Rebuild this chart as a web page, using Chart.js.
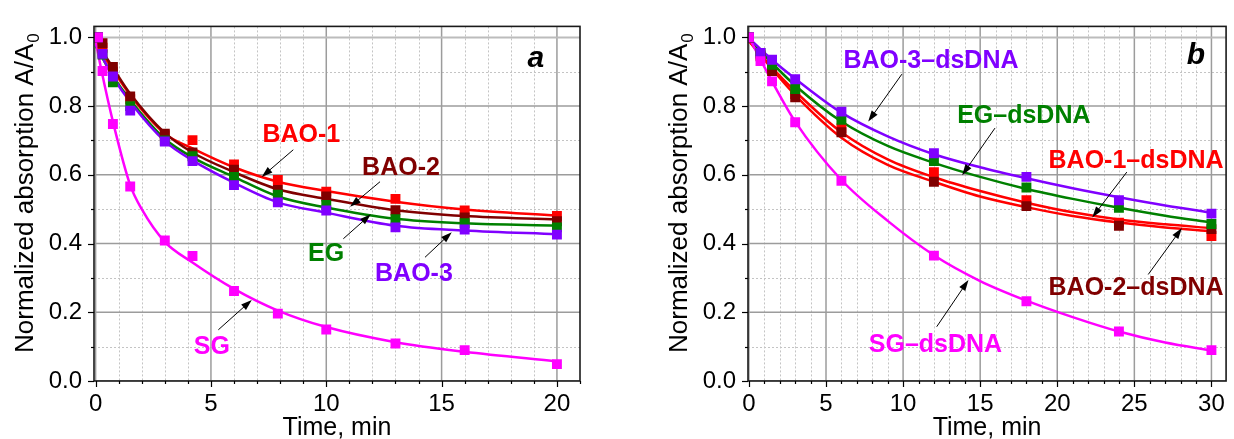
<!DOCTYPE html>
<html>
<head>
<meta charset="utf-8">
<title>Photobleaching kinetics</title>
<script src="https://cdn.jsdelivr.net/npm/chart.js@4.4.0/dist/chart.umd.min.js"></script>
<style>
  body { margin: 0; background: #fff; }
  canvas.panel { position: absolute; top: 0; }
</style>
</head>
<body>
<canvas id="chartA" class="panel" width="617" height="439" style="left:0"></canvas>
<canvas id="chartB" class="panel" width="617" height="439" style="left:617px"></canvas>
<script>
const FONT = '"Liberation Sans", Arial, sans-serif';

// Panel a: free dyes, measured points
const timeA = [0.1, 0.3, 0.75, 1.5, 3, 4.2, 6, 7.9, 10, 13, 16, 20];
const bao1A = [1.0, 0.97, 0.9, 0.82, 0.715, 0.701, 0.63, 0.585, 0.551, 0.53, 0.496, 0.48];
const bao2A = [1.0, 0.983, 0.914, 0.828, 0.72, 0.665, 0.615, 0.556, 0.537, 0.497, 0.476, 0.465];
const egA = [1.0, 0.95, 0.869, 0.8, 0.7, 0.654, 0.594, 0.542, 0.512, 0.471, 0.459, 0.447];
const bao3A = [1.0, 0.952, 0.886, 0.787, 0.697, 0.64, 0.57, 0.52, 0.496, 0.447, 0.441, 0.426];
const sgA = [1.0, 0.902, 0.748, 0.566, 0.409, 0.364, 0.262, 0.196, 0.15, 0.109, 0.09, 0.049];

// Panel a: fitted curves
const fitTimeA = [0, 0.75, 1.5, 3, 4.2, 6, 7.9, 10, 13, 16, 20];
const bao1FitA = [0.985, 0.905, 0.832, 0.72, 0.677, 0.622, 0.58, 0.553, 0.522, 0.499, 0.481];
const bao2FitA = [0.99, 0.912, 0.836, 0.722, 0.665, 0.608, 0.558, 0.53, 0.497, 0.48, 0.47];
const egFitA = [0.975, 0.888, 0.818, 0.705, 0.651, 0.594, 0.537, 0.505, 0.472, 0.459, 0.452];
const bao3FitA = [0.98, 0.885, 0.812, 0.698, 0.642, 0.577, 0.52, 0.49, 0.452, 0.438, 0.427];
const sgFitTimeA = [0, 0.25, 0.75, 1.5, 2, 3, 4.2, 6, 7.9, 10, 13, 16, 20];
const sgFitA = [0.99, 0.905, 0.755, 0.57, 0.5, 0.405, 0.345, 0.268, 0.205, 0.157, 0.113, 0.085, 0.057];

// Panel b: dye-dsDNA complexes, measured points
const timeB = [0, 0.75, 1.5, 3, 6, 12, 18, 24, 30];
const bao1B = [1.0, 0.95, 0.91, 0.835, 0.735, 0.608, 0.526, 0.461, 0.422];
const bao2B = [0.999, 0.945, 0.902, 0.826, 0.724, 0.58, 0.509, 0.452, 0.442];
const egB = [1.0, 0.955, 0.92, 0.85, 0.76, 0.64, 0.563, 0.504, 0.457];
const bao3B = [1.0, 0.955, 0.935, 0.878, 0.784, 0.663, 0.594, 0.526, 0.487];
const sgB = [1.0, 0.931, 0.872, 0.753, 0.583, 0.365, 0.232, 0.144, 0.09];

// Panel b: fitted curves
const fitTimeB = [0, 1.5, 3, 6, 9, 12, 15, 18, 21, 24, 27, 30];
const bao1FitB = [0.99, 0.912, 0.843, 0.724, 0.645, 0.593, 0.553, 0.519, 0.491, 0.47, 0.456, 0.445];
const bao2FitB = [0.99, 0.908, 0.832, 0.708, 0.629, 0.58, 0.537, 0.506, 0.48, 0.461, 0.447, 0.436];
const egFitB = [0.995, 0.925, 0.86, 0.755, 0.684, 0.635, 0.594, 0.559, 0.53, 0.504, 0.481, 0.461];
const bao3FitB = [0.998, 0.935, 0.88, 0.781, 0.712, 0.66, 0.622, 0.59, 0.561, 0.535, 0.511, 0.49];
const sgFitB = [1.0, 0.872, 0.755, 0.585, 0.466, 0.366, 0.291, 0.234, 0.186, 0.144, 0.112, 0.089];

// Axis ticks
const yTicks = [0, 0.2, 0.4, 0.6, 0.8, 1.0];
const xTicksA = [0, 5, 10, 15, 20];
const xTicksB = [0, 5, 10, 15, 20, 25, 30];

const RED = '#ff0000';
const DARK_RED = '#800000';
const GREEN = '#008000';
const VIOLET = '#8000ff';
const MAGENTA = '#ff00ff';

function toPoints(xs, ys) {
  return xs.map((x, i) => ({ x: x, y: ys[i] }));
}

function markers(xs, ys, color) {
  return {
    data: toPoints(xs, ys),
    showLine: false,
    pointStyle: 'rect',
    pointRadius: 7,
    pointHoverRadius: 7,
    pointBorderWidth: 0,
    backgroundColor: color,
    borderColor: color,
    order: 0,
  };
}

function fitLine(xs, ys, color) {
  return {
    data: toPoints(xs, ys),
    showLine: true,
    cubicInterpolationMode: 'monotone',
    pointRadius: 0,
    borderColor: color,
    backgroundColor: color,
    borderWidth: 2.5,
    order: 1,
  };
}

function lineAt(ctx, x0, y0, x1, y1) {
  ctx.beginPath();
  ctx.moveTo(x0, y0);
  ctx.lineTo(x1, y1);
  ctx.stroke();
}

function drawArrow(ctx, x0, y0, x1, y1) {
  const ang = Math.atan2(y1 - y0, x1 - x0);
  const len = 11;
  const half = 3.6;
  const cos = Math.cos(ang);
  const sin = Math.sin(ang);
  ctx.strokeStyle = '#000';
  ctx.fillStyle = '#000';
  ctx.lineWidth = 1;
  lineAt(ctx, x0, y0, x1 - cos * len * 0.8, y1 - sin * len * 0.8);
  ctx.beginPath();
  ctx.moveTo(x1, y1);
  ctx.lineTo(x1 - len * cos + half * sin, y1 - len * sin - half * cos);
  ctx.lineTo(x1 - len * cos - half * sin, y1 - len * sin + half * cos);
  ctx.closePath();
  ctx.fill();
}

// Grid, frame, ticks, axis titles and the curve labels
const panelDecor = {
  id: 'panelDecor',

  beforeDatasetsDraw(chart, args, opts) {
    const { ctx, chartArea: a, scales: { x, y } } = chart;
    ctx.save();
    ctx.beginPath();
    ctx.rect(a.left, a.top, a.right - a.left, a.bottom - a.top);
    ctx.clip();

    // dotted minor grid
    ctx.strokeStyle = '#c4c4c4';
    ctx.lineWidth = 1;
    ctx.setLineDash([2, 2]);
    for (let i = 1; i <= opts.xMax; i++) {
      if (i % 5 === 0) continue;
      const px = Math.round(x.getPixelForValue(i)) + 0.5;
      lineAt(ctx, px, a.top, px, a.bottom);
    }
    for (let i = 1; i <= 10; i += 2) {
      const py = Math.round(y.getPixelForValue(i / 10)) + 0.5;
      lineAt(ctx, a.left, py, a.right, py);
    }

    // solid major grid
    ctx.setLineDash([]);
    ctx.strokeStyle = '#9c9c9c';
    ctx.lineWidth = 1.5;
    for (let i = 0; i <= opts.xMax; i += 5) {
      const px = x.getPixelForValue(i);
      lineAt(ctx, px, a.top, px, a.bottom);
    }
    yTicks.forEach((v) => {
      const py = y.getPixelForValue(v);
      ctx.strokeStyle = v === 1 ? '#bcbcbc' : '#9c9c9c';
      ctx.lineWidth = v === 1 ? 2 : 1.5;
      lineAt(ctx, a.left, py, a.right, py);
    });
    ctx.restore();
  },

  afterDatasetsDraw(chart, args, opts) {
    const { ctx, chartArea: a, scales: { x, y } } = chart;
    ctx.save();

    // plot frame
    ctx.strokeStyle = '#1a1a1a';
    ctx.lineWidth = 1.6;
    ctx.strokeRect(a.left, a.top, a.right - a.left, a.bottom - a.top);

    // outward tick marks
    ctx.strokeStyle = '#000';
    ctx.lineWidth = 1.2;
    for (let i = 0; i <= opts.xMax; i++) {
      const px = Math.round(x.getPixelForValue(i)) + 0.5;
      lineAt(ctx, px, a.bottom, px, a.bottom + (i % 5 === 0 ? 6 : 3));
    }
    for (let i = 0; i <= 10; i++) {
      const py = Math.round(y.getPixelForValue(i / 10)) + 0.5;
      lineAt(ctx, a.left - (i % 2 === 0 ? 6 : 3), py, a.left, py);
    }

    // axis titles
    ctx.fillStyle = '#000';
    ctx.font = `25px ${FONT}`;
    ctx.textAlign = 'center';
    ctx.textBaseline = 'alphabetic';
    ctx.fillText('Time, min', (a.left + a.right) / 2, a.bottom + 54);

    ctx.save();
    ctx.translate(a.left - 61, a.bottom - 28);
    ctx.rotate(-Math.PI / 2);
    ctx.textAlign = 'left';
    ctx.font = `26px ${FONT}`;
    const main = 'Normalized absorption A/A';
    ctx.fillText(main, 0, 0);
    const w = ctx.measureText(main).width;
    ctx.font = `17px ${FONT}`;
    ctx.fillText('0', w + 1, 6);
    ctx.restore();

    // curve labels with arrows
    opts.notes.forEach((n) => {
      const lx = x.getPixelForValue(n.at[0]);
      const ly = y.getPixelForValue(n.at[1]);
      ctx.font = `bold 25px ${FONT}`;
      ctx.fillStyle = n.color;
      ctx.textAlign = 'center';
      ctx.fillText(n.text, lx, ly + 9);
      drawArrow(ctx,
        x.getPixelForValue(n.from[0]), y.getPixelForValue(n.from[1]),
        x.getPixelForValue(n.to[0]), y.getPixelForValue(n.to[1]));
    });

    // panel letter
    ctx.font = `italic bold 30px ${FONT}`;
    ctx.fillStyle = '#000';
    ctx.textAlign = 'center';
    ctx.fillText(opts.letter.text, x.getPixelForValue(opts.letter.at[0]), y.getPixelForValue(opts.letter.at[1]) + 10);

    ctx.restore();
  },
};

function makePanel(canvasId, cfg) {
  return new Chart(document.getElementById(canvasId), {
    type: 'scatter',
    data: { datasets: cfg.datasets },
    options: {
      responsive: false,
      animation: false,
      devicePixelRatio: 1,
      layout: { padding: { top: 18, right: cfg.padRight, left: 0, bottom: 0 } },
      plugins: {
        legend: { display: false },
        tooltip: { enabled: false },
        panelDecor: { xMax: cfg.xMax, notes: cfg.notes, letter: cfg.letter },
      },
      scales: {
        x: {
          type: 'linear',
          min: cfg.xMin,
          max: cfg.xMax,
          grid: { display: false, drawTicks: false },
          border: { display: false },
          afterBuildTicks: (scale) => {
            scale.ticks = cfg.xTicks.map((v) => ({ value: v }));
          },
          afterFit: (scale) => {
            scale.height = 58;
          },
          ticks: {
            padding: 9,
            color: '#000',
            font: { family: FONT, size: 24 },
            callback: (v) => String(v),
          },
        },
        y: {
          type: 'linear',
          min: 0,
          max: 1.032,
          grid: { display: false, drawTicks: false },
          border: { display: false },
          afterBuildTicks: (scale) => {
            scale.ticks = yTicks.map((v) => ({ value: v }));
          },
          afterFit: (scale) => {
            scale.width = cfg.yAxisWidth;
          },
          ticks: {
            padding: 12,
            color: '#000',
            font: { family: FONT, size: 24 },
            callback: (v) => v.toFixed(1),
          },
        },
      },
    },
    plugins: [panelDecor],
  });
}

makePanel('chartA', {
  xMin: -0.07,
  xMax: 21,
  xTicks: xTicksA,
  yAxisWidth: 94,
  padRight: 37,
  datasets: [
    markers(timeA, sgA, MAGENTA),
    markers(timeA, bao3A, VIOLET),
    markers(timeA, egA, GREEN),
    markers(timeA, bao2A, DARK_RED),
    markers(timeA, bao1A, RED),
    fitLine(sgFitTimeA, sgFitA, MAGENTA),
    fitLine(fitTimeA, bao3FitA, VIOLET),
    fitLine(fitTimeA, egFitA, GREEN),
    fitLine(fitTimeA, bao2FitA, DARK_RED),
    fitLine(fitTimeA, bao1FitA, RED),
  ],
  notes: [
    { text: 'BAO-1', color: RED, at: [8.92, 0.721], from: [8.57, 0.673], to: [7.2, 0.594] },
    { text: 'BAO-2', color: DARK_RED, at: [13.24, 0.627], from: [12.33, 0.58], to: [11.03, 0.507] },
    { text: 'EG', color: GREEN, at: [9.99, 0.374], from: [10.74, 0.414], to: [11.93, 0.485] },
    { text: 'BAO-3', color: VIOLET, at: [13.8, 0.316], from: [14.28, 0.36], to: [15.44, 0.433] },
    { text: 'SG', color: MAGENTA, at: [5.04, 0.104], from: [5.32, 0.149], to: [6.77, 0.236] },
  ],
  letter: { text: 'a', at: [19.09, 0.943] },
});

makePanel('chartB', {
  xMin: -0.06,
  xMax: 30.95,
  xTicks: xTicksB,
  yAxisWidth: 131,
  padRight: 2,
  datasets: [
    markers(timeB, sgB, MAGENTA),
    markers(timeB, bao3B, VIOLET),
    markers(timeB, egB, GREEN),
    markers(timeB, bao2B, DARK_RED),
    markers(timeB, bao1B, RED),
    fitLine(fitTimeB, sgFitB, MAGENTA),
    fitLine(fitTimeB, bao3FitB, VIOLET),
    fitLine(fitTimeB, egFitB, GREEN),
    fitLine(fitTimeB, bao2FitB, RED),
    fitLine(fitTimeB, bao1FitB, RED),
  ],
  notes: [
    { text: 'BAO-3\u2013dsDNA', color: VIOLET, at: [11.81, 0.937], from: [9.92, 0.893], to: [7.74, 0.755] },
    { text: 'EG\u2013dsDNA', color: GREEN, at: [17.83, 0.778], from: [15.96, 0.736], to: [13.83, 0.599] },
    { text: 'BAO-1\u2013dsDNA', color: RED, at: [25.11, 0.647], from: [24.51, 0.608], to: [22.27, 0.476] },
    { text: 'BAO-2\u2013dsDNA', color: DARK_RED, at: [25.11, 0.277], from: [25.9, 0.31], to: [28.08, 0.445] },
    { text: 'SG\u2013dsDNA', color: MAGENTA, at: [12.1, 0.11], from: [12.18, 0.158], to: [14.24, 0.294] },
  ],
  letter: { text: 'b', at: [29.0, 0.951] },
});
</script>
</body>
</html>
